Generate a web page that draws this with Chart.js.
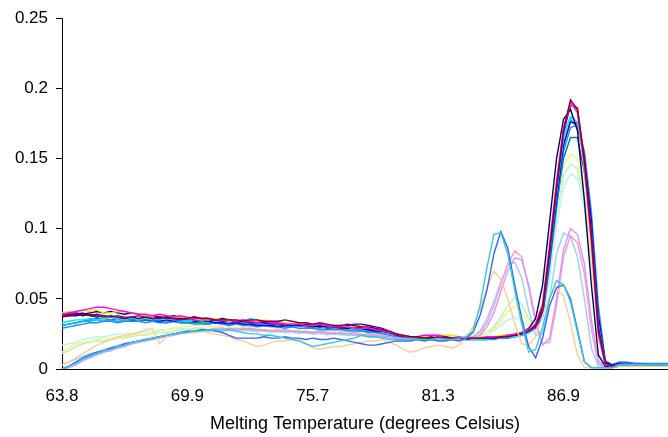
<!DOCTYPE html>
<html>
<head>
<meta charset="utf-8">
<script src="https://cdn.jsdelivr.net/npm/chart.js@4"></script>
<style>
  html, body { margin: 0; padding: 0; background: #fff; overflow: hidden; }
  #wrap { width: 668px; height: 437px; position: relative; }
</style>
</head>
<body>
<div id="wrap"><canvas id="melt"></canvas></div>
<script>
// Melt curve: -dF/dT per well against reading temperature.
// One reading every ~0.33 °C; the axis labels every 18th reading.
const temps = [
  63.8, 64.1, 64.5, 64.8, 65.2, 65.5, 65.8, 66.2, 66.5, 66.9, 67.2, 67.6, 67.9, 68.2, 68.6, 68.9, 69.2, 69.6, 69.9,
  70.2, 70.5, 70.9, 71.2, 71.5, 71.8, 72.1, 72.5, 72.8, 73.1, 73.4, 73.8, 74.1, 74.4, 74.7, 75.1, 75.4, 75.7,
  76.0, 76.3, 76.6, 76.9, 77.3, 77.6, 77.9, 78.2, 78.5, 78.8, 79.1, 79.4, 79.7, 80.1, 80.4, 80.7, 81.0, 81.3,
  81.6, 81.9, 82.2, 82.5, 82.9, 83.2, 83.5, 83.8, 84.1, 84.4, 84.7, 85.0, 85.3, 85.7, 86.0, 86.3, 86.6, 86.9,
  87.2, 87.5, 87.8, 88.1, 88.5, 88.8, 89.1, 89.4, 89.7, 90.0, 90.3, 90.6, 90.9, 91.3, 91.6
];
const labelEvery = 18;
const yTicks = [0, 0.05, 0.1, 0.15, 0.2, 0.25];

// Well readings, in thousandths of the y unit.
const navy = [
  39,40,40,39,40,41,40,41,40,39, 40,39,38,38,37,37,38,37,36,37,
  36,36,35,36,35,34,35,34,34,33, 33,33,32,32,31,32,31,30,31,30,
  30,29,30,29,28,27,27,26,25,24, 23,23,22,22,22,23,22,22,22,22,
  22,22,22,23,24,24,26,29, 36,60,105,150,178,185,170,120,60,10,2,2,
  3,3,2,2,2,2,2,2];
const magenta = [
  39,40,41,42,43,44,44,43,42,41, 40,39,39,38,39,38,37,38,37,36,
  36,36,35,35,35,34,35,34,33,34, 33,33,32,32,32,31,31,32,31,30,
  30,30,29,29,29,28,27,26,25,24, 23,23,24,24,24,23,22,23,22,22,
  22,23,23,23,24,25,26,28, 32,46,88,133,172,190,183,145,90,25,3,2,
  3,2,2,2,2,2,2,2];
const yellow = [
  40,41,41,42,41,42,40,40,41,41, 40,39,38,38,39,38,37,37,36,36,
  35,35,36,35,34,35,35,34,34,35, 34,33,33,32,33,33,32,32,31,31,
  31,30,30,31,29,29,28,27,25,24, 23,23,23,24,24,24,24,23,22,22,
  23,23,23,24,24,25,26,28, 33,48,90,135,172,190,182,142,88,22,3,2,
  3,3,2,2,2,2,2,2];
const cyan = [
  33,34,35,35,36,35,36,37,36,35, 36,35,36,35,35,36,35,35,34,35,
  34,35,34,35,34,33,34,36,35,34, 33,34,33,32,32,33,32,31,31,30,
  31,30,29,29,28,28,27,26,24,23, 22,22,22,21,22,22,21,22,22,21,
  21,21,22,22,23,23,24,26, 30,42,80,125,165,180,176,145,98,32,4,2,
  3,3,3,2,2,2,2,2];
const purple = [
  38,39,39,40,38,39,38,37,38,37, 37,38,37,36,37,36,36,35,36,35,
  35,34,35,34,34,33,34,33,33,33, 32,32,31,32,31,31,30,31,30,30,
  29,29,30,29,28,28,27,26,24,23, 23,22,22,22,23,22,22,22,21,22,
  22,22,23,23,24,24,25,27, 30,42,82,128,168,188,186,150,98,30,4,2,
  3,3,2,2,2,2,2,2];
const maroon = [
  38,38,39,38,39,38,37,38,37,36, 37,36,37,36,36,37,36,36,36,37,
  36,36,35,35,35,35,34,35,35,34, 34,34,35,34,33,33,32,33,32,31,
  31,32,31,30,30,29,28,27,25,24, 23,23,22,23,22,23,22,22,22,22,
  22,22,22,23,23,24,25,27, 31,44,85,130,170,192,185,148,95,28,4,2,
  3,3,3,2,2,2,2,2];
const teal = [
  31,32,33,34,35,36,36,35,36,35, 35,34,35,34,34,33,34,33,33,33,
  33,32,33,32,33,32,32,31,32,31, 31,31,30,30,31,30,29,30,29,29,
  29,28,28,27,27,26,26,25,24,23, 22,22,22,21,22,22,21,21,22,22,
  22,22,22,22,23,23,25,27, 30,40,76,118,150,165,165,140,100,35,4,2,
  3,3,2,2,2,2,2,2];
const blue = [
  37,38,38,39,38,37,38,37,36,36, 35,36,35,35,34,35,34,35,35,34,
  34,34,33,33,32,33,32,32,31,31, 31,30,31,31,32,32,32,31,30,31,
  30,31,32,32,31,30,29,27,25,23, 22,22,22,22,21,22,22,21,22,22,
  22,22,22,22,23,24,25,27, 30,40,78,120,160,176,175,150,105,38,5,3,
  4,4,4,3,3,3,3,3];
const skyBlue = [
  31,32,33,34,34,35,34,35,34,35, 35,36,35,34,35,34,35,34,34,35,
  34,33,34,33,33,32,33,33,32,32, 32,31,31,30,31,30,30,29,30,29,
  29,28,28,28,27,27,26,25,24,23, 22,22,21,22,21,21,22,21,21,21,
  21,21,22,22,22,23,24,26, 29,38,75,118,158,178,172,152,108,40,5,3,
  4,4,3,3,3,3,3,3];
const azure = [
  29,30,31,32,33,33,34,34,33,34, 34,34,33,34,33,33,34,33,33,32,
  32,32,33,32,31,32,31,31,30,31, 30,30,29,30,29,29,29,28,28,28,
  28,27,27,27,26,26,25,24,23,22, 22,21,21,21,21,22,21,21,21,21,
  21,21,21,22,22,23,24,26, 29,38,74,115,155,172,174,155,112,45,6,3,
  5,5,4,4,4,4,4,4];
const lightTurquoise = [
  17,18,19,21,22,23,23,24,25,25, 25,26,27,27,28,28,29,29,28,29,
  29,28,28,29,28,27,28,27,27,27, 26,27,26,26,25,26,25,25,24,25,
  24,24,25,24,23,23,23,22,22,21, 21,21,21,22,21,21,22,21,22,22,
  23,24,27,31,35,37,35,30, 28,36,65,102,130,139,136,114,74,22,3,2,
  2,2,2,2,2,2,2,2];
const lightGreen = [
  11,13,16,18,19,20,20,21,22,22, 23,24,24,25,26,26,27,28,28,29,
  29,28,29,28,28,27,28,27,27,27, 27,26,27,26,26,27,26,25,26,25,
  25,25,24,25,24,24,23,23,22,22, 21,21,22,21,22,21,22,22,23,23,
  24,26,30,37,45,51,46,36, 30,40,70,110,138,146,143,120,78,24,3,2,
  2,2,2,2,2,2,2,2];
const lightYellow = [
  12,15,18,19,20,21,22,22,23,23, 24,25,25,26,27,28,29,30,30,31,
  31,30,31,30,30,29,30,29,29,28, 28,29,28,27,28,27,27,26,27,26,
  27,26,26,27,26,25,25,24,23,22, 22,21,22,22,23,22,23,22,23,24,
  25,26,28,34,41,45,40,32, 30,42,75,115,145,153,150,125,80,25,3,2,
  2,2,2,2,2,2,2,2];
const paleBlue = [
  3,5,7,9,11,12,14,15,17,18, 19,20,21,22,23,24,25,26,27,27,
  28,28,29,29,28,29,28,28,27,28, 27,27,26,27,26,26,25,26,25,25,
  25,24,24,24,23,23,23,22,22,21, 21,21,21,21,21,22,21,21,22,23,
  27,36,48,62,74,76,65,42, 24,25,50,82,97,94,80,50,15,2,1,1,
  2,2,2,2,2,2,2,2];
const rose = [
  0,2,5,7,9,11,12,14,15,17, 18,19,20,22,23,24,25,26,26,27,
  27,28,28,29,28,28,29,28,28,27, 27,28,27,27,26,27,26,26,25,26,
  25,25,26,25,24,24,24,23,22,22, 21,21,21,22,21,21,21,22,22,23,
  26,33,45,60,75,84,80,58, 32,18,19,45,80,95,90,68,28,4,1,1,
  2,2,2,2,2,2,2,2];
const lavender = [
  0,1,3,6,8,10,12,13,15,16, 18,19,20,21,22,23,24,25,26,26,
  27,27,28,28,29,28,28,29,28,28, 27,27,28,27,27,26,26,27,26,25,
  26,25,25,24,25,24,23,23,22,22, 21,22,21,21,22,21,21,21,22,22,
  24,30,40,55,70,79,78,60, 35,17,22,50,85,100,96,75,35,6,1,1,
  2,2,2,2,2,2,2,2];
const tan = [
  3,5,8,11,14,17,19,21,23,24, 25,26,28,29,18,23,25,26,27,26,
  27,26,25,24,23,21,20,18,16,17, 19,20,20,21,21,18,15,14,15,16,
  16,17,18,19,20,20,21,19,17,14, 12,13,15,16,17,16,15,17,22,30,
  42,58,70,64,50,32,18,17, 23,38,52,57,52,33,10,1,1,1,1,1,
  2,2,2,2,2,2,2,2];
const royalBlue = [
  0,2,5,8,10,12,13,15,16,18, 19,20,21,22,23,24,25,26,27,27,
  28,28,27,26,24,22,22,22,22,23, 22,22,23,22,22,21,22,21,21,22,
  21,20,19,18,17,17,18,19,20,20, 20,21,20,21,20,20,21,20,22,26,
  38,56,82,98,86,60,36,16, 8,22,45,58,60,50,28,5,1,1,1,1,
  3,4,4,4,3,3,3,3];
const aqua = [
  0,2,4,7,9,11,13,14,16,17, 19,20,21,22,23,24,25,26,26,27,
  27,28,28,27,28,27,26,25,25,24, 24,23,22,21,20,18,16,17,18,19,
  20,21,22,24,23,23,22,21,21,21, 21,21,21,21,22,21,21,22,23,27,
  45,72,96,97,82,56,32,12, 14,30,50,63,60,48,26,5,1,1,1,1,
  3,3,3,3,3,3,3,3];

// Earlier entries are painted last (on top).
const wells = [
  { values: aqua, color: '#33cccc' },
  { values: royalBlue, color: '#3366ff' },
  { values: tan, color: '#ffcc99' },
  { values: maroon, color: '#8b0030' },
  { values: magenta, color: '#ff00ff' },
  { values: yellow, color: '#f2e600' },
  { values: navy, color: '#000080' },
  { values: purple, color: '#800080' },
  { values: lavender, color: '#cc99ff' },
  { values: rose, color: '#ff99cc' },
  { values: paleBlue, color: '#99ccff' },
  { values: cyan, color: '#00e5ff' },
  { values: blue, color: '#0000ff' },
  { values: azure, color: '#1e8cf0' },
  { values: skyBlue, color: '#00b8ff' },
  { values: teal, color: '#008080' },
  { values: lightYellow, color: '#f5f57a' },
  { values: lightGreen, color: '#b5f5b5' },
  { values: lightTurquoise, color: '#b5f5f5' },
];

const family = '"Liberation Sans", Arial, sans-serif';
const tickFont = { family, size: 17 };
const titleFont = { family, size: 18 };

new Chart(document.getElementById('melt'), {
  type: 'line',
  data: {
    labels: temps.map((t) => t.toFixed(1)),
    datasets: wells.map((w) => ({
      data: w.values.map((v) => v / 1000),
      borderColor: w.color,
      borderWidth: 1.4,
      pointRadius: 0,
      tension: 0,
      fill: false,
    })),
  },
  options: {
    responsive: true,
    maintainAspectRatio: false,
    animation: false,
    devicePixelRatio: 1,
    layout: { padding: { top: 16, right: 0, bottom: 0, left: 0 } },
    plugins: { legend: { display: false }, tooltip: { enabled: false } },
    scales: {
      x: {
        type: 'category',
        offset: false,
        // invisible tick marks push the labels down; ticks.padding would
        // also eat into the right edge of the plot
        grid: { display: true, drawOnChartArea: false, drawTicks: true, tickLength: 17, tickColor: 'rgba(0,0,0,0)' },
        border: { display: true, color: '#000', width: 1 },
        ticks: {
          color: '#000',
          font: tickFont,
          autoSkip: false,
          maxRotation: 0,
          padding: 0,
          callback(val, i) {
            return i % labelEvery === 0 ? this.getLabelForValue(val) : '';
          },
        },
        title: {
          display: true,
          text: 'Melting Temperature (degrees Celsius)',
          color: '#000',
          font: titleFont,
          padding: { top: 0, bottom: 2 },
        },
        afterFit(scale) { scale.height = 68; },
      },
      y: {
        min: 0,
        max: 0.25,
        grid: { display: true, drawOnChartArea: false, drawTicks: true, tickLength: 6, color: '#000' },
        border: { display: true, color: '#000', width: 1 },
        afterBuildTicks(scale) { scale.ticks = yTicks.map((v) => ({ value: v })); },
        ticks: {
          color: '#000',
          font: tickFont,
          padding: 8,
          callback: (v) => String(+v.toFixed(2)),
        },
        afterFit(scale) { scale.width = 62; },
      },
    },
  },
});
</script>
</body>
</html>
